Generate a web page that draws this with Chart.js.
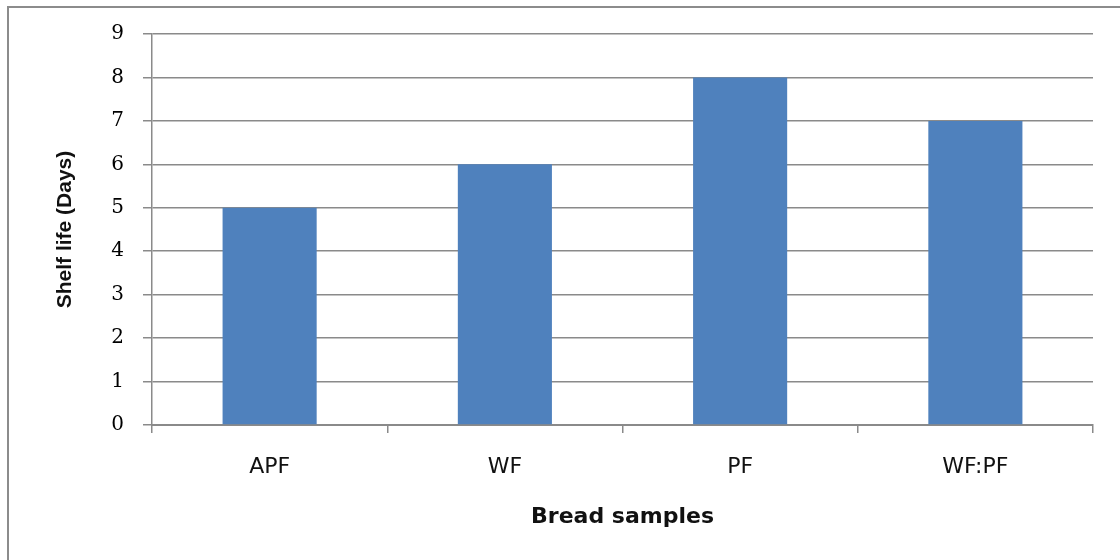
<!DOCTYPE html>
<html>
<head>
<meta charset="utf-8">
<script src="https://cdn.jsdelivr.net/npm/chart.js@4"></script>
<style>
  html, body { margin: 0; padding: 0; background: #fff; }
  #wrap { width: 1120px; height: 560px; }
</style>
</head>
<body>
<div id="wrap"><canvas id="barchart" width="1120" height="560"></canvas></div>
<script>
// data
const samples = ['APF', 'WF', 'PF', 'WF:PF'];
const shelfLife = [5, 6, 8, 7];
const yTicks = [0, 1, 2, 3, 4, 5, 6, 7, 8, 9];

const gridGray = '#8a8a8a';

// grey frame round the whole picture (only left and top edges show)
const frame = {
  id: 'frame',
  beforeDraw(chart) {
    const ctx = chart.ctx;
    ctx.save();
    ctx.fillStyle = '#fff';
    ctx.fillRect(0, 0, chart.width, chart.height);
    ctx.strokeStyle = '#8c8c8c';
    ctx.lineWidth = 2;
    ctx.strokeRect(8, 7, 1200, 600);
    ctx.restore();
  }
};

const data = {
  labels: samples,
  datasets: [{
    label: 'Shelf life',
    data: shelfLife,
    backgroundColor: '#4F81BD',
    borderWidth: 0,
    barPercentage: 0.4,
    categoryPercentage: 1
  }]
};

new Chart(document.getElementById('barchart'), {
  type: 'bar',
  data: data,
  plugins: [frame],
  options: {
    responsive: false,
    animation: false,
    layout: { padding: { top: 34, right: 27, bottom: 26, left: 49 } },
    plugins: {
      legend: { display: false },
      tooltip: { enabled: false }
    },
    scales: {
      x: {
        offset: true,
        grid: {
          offset: true,
          drawOnChartArea: false,
          drawTicks: true,
          tickLength: 8,
          color: gridGray,
          lineWidth: 1.5
        },
        border: { color: gridGray, width: 2 },
        ticks: {
          color: '#111',
          padding: 21,
          font: { family: 'DejaVu Sans', size: 22 }
        },
        title: {
          display: true,
          text: 'Bread samples',
          color: '#111',
          font: { family: 'DejaVu Sans', size: 22, weight: 'bold' }
        },
        afterFit: scale => { scale.height = 109; }
      },
      y: {
        min: 0,
        max: 9,
        afterBuildTicks: scale => { scale.ticks = yTicks.map(v => ({ value: v })); },
        grid: {
          color: gridGray,
          lineWidth: 1.5,
          tickLength: 9
        },
        border: { color: gridGray, width: 1.5 },
        ticks: {
          color: '#000',
          padding: 19,
          font: { family: 'DejaVu Serif', size: 20 }
        },
        title: {
          display: true,
          text: 'Shelf life (Days)',
          color: '#111',
          font: { family: 'Liberation Sans', size: 21, weight: 'bold' }
        },
        afterFit: scale => { scale.width = 103; }
      }
    }
  }
});
</script>
</body>
</html>
